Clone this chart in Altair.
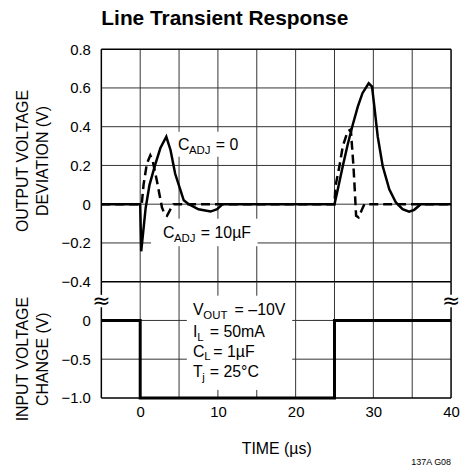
import altair as alt
import pandas as pd

# ---------------- data ----------------
time_cadj0 = [-5, 0, 0.13, 0.7, 1.2, 1.9, 2.6, 3.36, 3.9, 4.5, 5.2, 5.6, 6.25, 7.5, 9.05, 9.9, 10.6,
              25, 25.43, 26.07, 26.7, 27.35, 28.0, 28.6, 29.4, 29.83, 30.13, 30.56, 31.2, 32.05, 32.9,
              33.76, 34.6, 35.26, 36.1, 40]
dev_cadj0 = [0, 0, -0.243, -0.02, 0.1, 0.2, 0.29, 0.348, 0.28, 0.157, 0.07, 0.02, 0, -0.026, -0.038, -0.026, 0,
             0, 0.077, 0.197, 0.308, 0.41, 0.504, 0.573, 0.624, 0.607, 0.504, 0.35, 0.197, 0.077, 0.009,
             -0.026, -0.039, -0.029, 0, 0]

time_cadj10 = [-5, 0, 0.2, 0.43, 0.86, 1.3, 1.6, 2.15, 2.8, 3.15, 3.45, 3.9, 4.3,
               25, 25.13, 25.64, 26.07, 26.7, 27.1, 27.44, 27.65, 27.78, 28.1, 28.55, 28.85, 40]
dev_cadj10 = [0, 0, 0, 0.10, 0.21, 0.252, 0.226, 0.12, -0.017, -0.052, -0.06, -0.026, 0,
              0, 0.094, 0.197, 0.299, 0.376, 0.385, 0.197, 0.043, -0.06, -0.068, -0.026, 0, 0]

time_input = [-5, 0, 0, 25, 25, 40]
input_change = [0, 0, -1.0, -1.0, 0, 0]

x_ticks = [-5, 0, 5, 10, 15, 20, 25, 30, 35, 40]
dev_ticks = [-0.4, -0.2, 0, 0.2, 0.4, 0.6, 0.8]
inp_ticks = [-1.0, -0.5, 0, 0.5]

title_text = "Line Transient Response"
top_axis_title = ["OUTPUT VOLTAGE", "DEVIATION (V)"]
bot_axis_title = ["INPUT VOLTAGE", "CHANGE (V)"]
x_axis_title = "TIME (µs)"
footnote = "137A G08"

# ---------------- styling ----------------
FONT = "Liberation Sans"
W, H_TOP, H_BOT = 352, 234, 117
BIG, SUB = 16, 11.5
X_DOM = [-5, 40]
TOP_DOM = [-0.4, 0.8]
BOT_DOM = [-1.0, 0.5]
GRID = "#333333"

# label background areas (grid is left open there): (t1, t2, v1, v2)
TOP_GAPS = [(4.6, 13.55, 0.245, 0.374), (1.4, 15.1, -0.217, -0.075)]
BOT_GAPS = [(6.0, 19.56, -0.897, 0.319)]
BREAK_GAP = (0.17, 0.33)

xscale = alt.Scale(domain=X_DOM, nice=False, zero=False)


def seq_df(t, v):
    return pd.DataFrame({"t": t, "v": v, "i": list(range(len(t)))})


def subtract(segs, lo, hi):
    out = []
    for a, b in segs:
        if hi <= a or lo >= b:
            out.append((a, b))
            continue
        if lo > a:
            out.append((a, lo))
        if hi < b:
            out.append((hi, b))
    return out


def grid_df(yvals, ydom, gaps):
    rows = []
    for t in x_ticks:
        if t in X_DOM:
            continue
        segs = [tuple(ydom)]
        for t1, t2, v1, v2 in gaps:
            if t1 < t < t2:
                segs = subtract(segs, min(v1, v2), max(v1, v2))
        rows += [(t, t, a, b) for a, b in segs]
    for v in yvals:
        if v <= ydom[0] or v >= ydom[1]:
            continue
        segs = [tuple(X_DOM)]
        for t1, t2, v1, v2 in gaps:
            if min(v1, v2) < v < max(v1, v2):
                segs = subtract(segs, t1, t2)
        rows += [(a, b, v, v) for a, b in segs]
    return pd.DataFrame(rows, columns=["t", "t2", "v", "v2"])


def frame_df(ydom, side_gap=None, top_edge=True):
    rows = [(X_DOM[0], X_DOM[1], ydom[0], ydom[0])]
    if top_edge:
        rows.append((X_DOM[0], X_DOM[1], ydom[1], ydom[1]))
    for t in X_DOM:
        segs = [tuple(ydom)]
        if side_gap:
            segs = subtract(segs, side_gap[0], side_gap[1])
        rows += [(t, t, a, b) for a, b in segs]
    return pd.DataFrame(rows, columns=["t", "t2", "v", "v2"])


def rules(df, xe, ye, color, width):
    return alt.Chart(df).mark_rule(color=color, strokeWidth=width).encode(
        x=xe, x2=alt.X2("t2"), y=ye, y2=alt.Y2("v2"))


def pieces(t, v, parts, xe, ye):
    base = alt.Chart(pd.DataFrame({"t": [t], "v": [v]}))
    out = []
    for text, size, dx, dy in parts:
        out.append(base.mark_text(text=text, fontSize=size, dx=dx, dy=dy, align="left",
                                  baseline="alphabetic", font=FONT, color="black").encode(x=xe, y=ye))
    return out

# ---------------- top panel ----------------
x_top = alt.X("t:Q", scale=xscale,
              axis=alt.Axis(values=x_ticks, labels=False, ticks=False, domain=False, title=None, grid=False))
y_top = alt.Y("v:Q", scale=alt.Scale(domain=TOP_DOM, nice=False, zero=False),
              axis=alt.Axis(values=dev_ticks, ticks=False, domain=False, grid=False,
                            labelExpr="datum.value == 0 ? '0' : format(datum.value, '.1f')",
                            labelPadding=11, labelFontSize=15, labelFont=FONT, labelColor="black",
                            title=top_axis_title, titleFont=FONT, titleFontSize=16, titleFontWeight="normal",
                            titleAngle=-90, titleX=-74, titleY=112, titleBaseline="alphabetic",
                            titleAlign="center", titleLineHeight=20, titleColor="black"))

top_layers = [
    rules(grid_df(dev_ticks, TOP_DOM, TOP_GAPS), x_top, y_top, GRID, 1),
    rules(frame_df(TOP_DOM), x_top, y_top, "black", 1.5),
    alt.Chart(seq_df(time_cadj10, dev_cadj10)).mark_line(
        color="black", strokeWidth=2.5, strokeDash=[9, 5]).encode(x=x_top, y=y_top, order="i:Q"),
    alt.Chart(seq_df(time_cadj0, dev_cadj0)).mark_line(
        color="black", strokeWidth=2.5).encode(x=x_top, y=y_top, order="i:Q"),
]
top_layers += pieces(4.86, 0.281, [("C", BIG, 0, 0), ("ADJ", SUB, 11, 4), ("= 0", BIG, 38, 0)], x_top, y_top)
top_layers += pieces(2.94, -0.176, [("C", BIG, 0, 0), ("ADJ", SUB, 11, 4), ("= 10µF", BIG, 38, 0)], x_top, y_top)

top = alt.layer(*top_layers).properties(
    width=W, height=H_TOP,
    title=alt.Title(title_text, anchor="start", frame="group", font=FONT, fontSize=21,
                    fontWeight="bold", color="black", offset=13))

# ---------------- bottom panel ----------------
x_bot = alt.X("t:Q", scale=xscale,
              axis=alt.Axis(values=x_ticks, ticks=False, domain=False, grid=False, labelFlush=False,
                            labelOverlap=False,
                            labelExpr="datum.value % 10 == 0 ? format(datum.value, 'd') : ''",
                            labelPadding=7, labelFontSize=15, labelFont=FONT, labelColor="black",
                            title=x_axis_title, titleFont=FONT, titleFontSize=16, titleFontWeight="normal",
                            titlePadding=21, titleColor="black"))
y_bot = alt.Y("v:Q", scale=alt.Scale(domain=BOT_DOM, nice=False, zero=False),
              axis=alt.Axis(values=inp_ticks, ticks=False, domain=False, grid=False,
                            labelExpr="datum.value > 0.25 ? '' : (datum.value == 0 ? '0' : format(datum.value, '.1f'))",
                            labelPadding=11, labelFontSize=15, labelFont=FONT, labelColor="black",
                            title=bot_axis_title, titleFont=FONT, titleFontSize=16, titleFontWeight="normal",
                            titleAngle=-90, titleX=-74, titleY=77.5, titleBaseline="alphabetic",
                            titleAlign="center", titleLineHeight=20, titleColor="black"))

brk = pd.DataFrame({"t": X_DOM, "v": [sum(BREAK_GAP) / 2] * 2})
bot_layers = [
    rules(grid_df(inp_ticks, BOT_DOM, BOT_GAPS), x_bot, y_bot, GRID, 1),
    rules(frame_df(BOT_DOM, side_gap=BREAK_GAP, top_edge=False), x_bot, y_bot, "black", 1.5),
    alt.Chart(brk).mark_text(text="≈", fontSize=22, baseline="middle", font="DejaVu Sans",
                             color="black").encode(x=x_bot, y=y_bot),
    alt.Chart(seq_df(time_input, input_change)).mark_line(
        color="black", strokeWidth=3).encode(x=x_bot, y=y_bot, order="i:Q"),
]
cond = [
    ("V", BIG, 0, 0), ("OUT", SUB, 10.5, 4), ("= –10V", BIG, 42, 0),
    ("I", BIG, 0, 22), ("L", SUB, 4.5, 26), ("= 50mA", BIG, 17, 22),
    ("C", BIG, 0, 42), ("L", SUB, 11.5, 46), ("= 1µF", BIG, 20.5, 42),
    ("T", BIG, 0, 63), ("j", SUB, 9.5, 67), ("= 25°C", BIG, 17, 63),
]
bot_layers += pieces(6.78, 0.073, cond, x_bot, y_bot)

bottom = alt.layer(*bot_layers).properties(
    width=W, height=H_BOT,
    title=alt.Title(footnote, orient="bottom", anchor="end", frame="group", font=FONT, fontSize=9,
                    fontWeight="normal", color="black", offset=1))

chart = alt.vconcat(top, bottom, spacing=0, bounds="flush").properties(
    padding={"left": 14, "top": 7, "right": 0, "bottom": 0},
    background="white"
).configure_view(
    stroke=None
)

chart.save("out.html", embed_options={"renderer": "svg", "actions": False})
